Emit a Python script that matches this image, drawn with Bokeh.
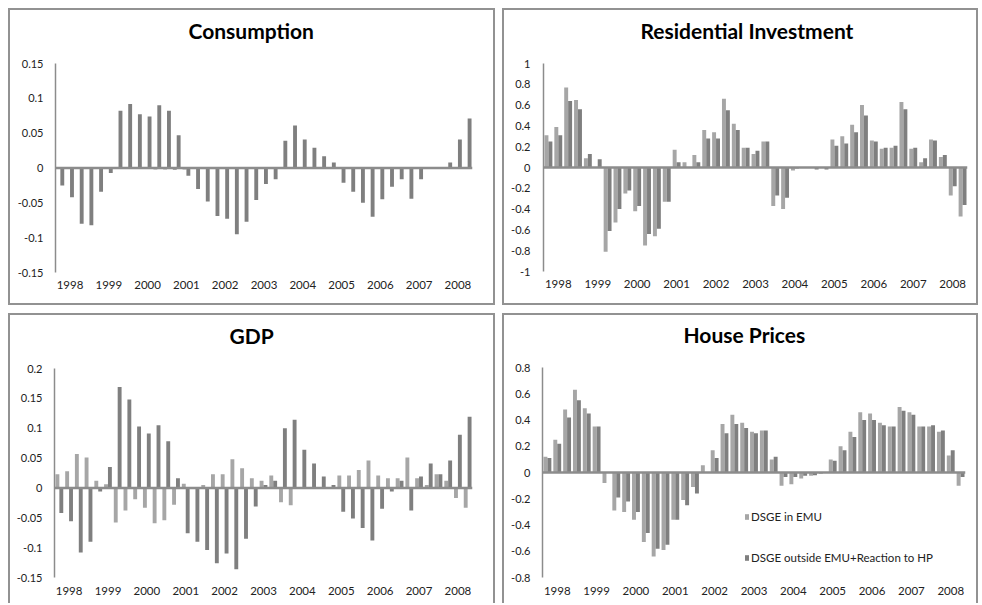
from bokeh.plotting import figure
from bokeh.models import (Range1d, Span, FixedTicker, PrintfTickFormatter, ColumnDataSource,
                          Title)
from bokeh.layouts import row, column
from bokeh.transform import dodge
from bokeh.embed import file_html
from bokeh.resources import INLINE

# ---------------- data ----------------
quarters = ["1997Q4"] + [f"{y}Q{q}" for y in range(1998, 2009) for q in range(1, 5)][:42]
quarter_time = [int(s[:4]) + (int(s[5]) - 1) / 4 for s in quarters]
years = [1998, 1999, 2000, 2001, 2002, 2003, 2004, 2005, 2006, 2007, 2008]

series_names = ["DSGE in EMU", "DSGE outside EMU+Reaction to HP"]

cons_emu = [0, 0, 0, 0, 0, 0, 0, 0, 0, 0, -0.002, -0.002, -0.003, -0.002, 0, 0, 0, 0, 0, 0,
            0, 0, 0, 0, 0, 0, 0, 0, 0, 0, 0, 0, 0, 0, 0, 0, 0, 0, 0, 0, 0, 0, 0]
cons_out = [-0.025, -0.042, -0.080, -0.082, -0.034, -0.007, 0.082, 0.092, 0.077, 0.074,
            0.090, 0.082, 0.047, -0.011, -0.030, -0.048, -0.069, -0.073, -0.095, -0.077,
            -0.046, -0.023, -0.016, 0.039, 0.061, 0.041, 0.029, 0.017, 0.008, -0.021,
            -0.034, -0.050, -0.070, -0.045, -0.027, -0.016, -0.044, -0.016, 0, 0,
            0.008, 0.041, 0.071]

res_emu = [0.31, 0.39, 0.77, 0.65, 0.09, 0.0, -0.81, -0.53, -0.25, -0.42, -0.75, -0.66, -0.33,
           0.17, 0.05, 0.12, 0.36, 0.34, 0.66, 0.42, 0.19, 0.13, 0.25, -0.37, -0.40, -0.03,
           0, 0, 0, 0.27, 0.30, 0.41, 0.60, 0.26, 0.18, 0.19, 0.63, 0.18, 0.05, 0.27, 0.10,
           -0.27, -0.47]
res_out = [0.25, 0.31, 0.64, 0.56, 0.13, 0.08, -0.61, -0.40, -0.22, -0.37, -0.64, -0.59, -0.33,
           0.05, 0.0, 0.05, 0.28, 0.28, 0.55, 0.36, 0.19, 0.16, 0.25, -0.27, -0.29, -0.01,
           0, -0.02, -0.02, 0.21, 0.23, 0.34, 0.50, 0.25, 0.19, 0.21, 0.56, 0.19, 0.09, 0.26,
           0.12, -0.18, -0.36]

gdp_emu = [0.023, 0.028, 0.057, 0.051, 0.012, 0.006, -0.058, -0.038, -0.019, -0.033, -0.059,
           -0.054, -0.028, 0.007, 0.0, 0.005, 0.023, 0.023, 0.048, 0.033, 0.016, 0.012, 0.021,
           -0.024, -0.029, 0, 0, 0, 0, 0.021, 0.021, 0.030, 0.046, 0.021, 0.016, 0.016, 0.051,
           0.016, 0.005, 0.023, 0.012, -0.017, -0.033]
gdp_out = [-0.042, -0.056, -0.108, -0.090, -0.006, 0.035, 0.169, 0.148, 0.103, 0.091, 0.105,
           0.078, 0.016, -0.076, -0.090, -0.104, -0.126, -0.110, -0.136, -0.085, -0.031, 0.005,
           0.012, 0.100, 0.114, 0.064, 0.041, 0.019, 0.005, -0.040, -0.051, -0.067, -0.088,
           -0.035, -0.006, 0.012, -0.038, 0.019, 0.041, 0.023, 0.046, 0.089, 0.119]

hp_emu = [0.12, 0.25, 0.48, 0.63, 0.49, 0.35, -0.08, -0.29, -0.30, -0.36, -0.53, -0.64, -0.59,
          -0.36, -0.21, -0.11, 0.055, 0.17, 0.37, 0.44, 0.38, 0.31, 0.32, 0.10, -0.10, -0.09,
          -0.045, -0.025, -0.01, 0.10, 0.20, 0.31, 0.46, 0.45, 0.38, 0.35, 0.50, 0.46, 0.35,
          0.35, 0.31, 0.13, -0.10]
hp_out = [0.11, 0.22, 0.42, 0.55, 0.45, 0.35, 0.0, -0.19, -0.22, -0.30, -0.46, -0.58, -0.55,
          -0.36, -0.25, -0.16, 0.0, 0.11, 0.30, 0.37, 0.34, 0.30, 0.32, 0.12, -0.035, -0.035,
          -0.025, -0.02, 0.0, 0.09, 0.17, 0.27, 0.40, 0.40, 0.36, 0.35, 0.47, 0.44, 0.35, 0.36,
          0.32, 0.17, -0.035]

cons_ticks = [-0.15, -0.1, -0.05, 0, 0.05, 0.1, 0.15]
res_ticks = [-1, -0.8, -0.6, -0.4, -0.2, 0, 0.2, 0.4, 0.6, 0.8, 1]
gdp_ticks = [-0.15, -0.1, -0.05, 0, 0.05, 0.1, 0.15, 0.2]
hp_ticks = [-0.8, -0.6, -0.4, -0.2, 0, 0.2, 0.4, 0.6, 0.8]

# ---------------- style ----------------
LIGHT = "#a6a6a6"
DARK = "#7f7f7f"
AXIS = "#8c8c8c"
BORDER = "#929292"
FONT = "Lato"
TXT = "#222222"
STEP = 0.25          # one quarter
BAR_W = STEP * 0.4
OFF = STEP * 0.2


def make_panel(title, emu, out, ticks, W, H, mb, title_offset, x_standoff, y_standoff,
               open_bottom=False, legend=None):
    src = ColumnDataSource(dict(t=quarter_time, q=quarters, emu=emu, out=out))
    fig_h = H - 2 if open_bottom else H - 4
    p = figure(x_range=Range1d(quarter_time[0] - STEP / 2, quarter_time[-1] + STEP / 2),
               y_range=Range1d(ticks[0], ticks[-1]),
               width=W - 4, height=fig_h, output_backend="svg", toolbar_location=None,
               min_border_left=mb[0], min_border_right=mb[1],
               min_border_top=mb[2], min_border_bottom=mb[3],
               background_fill_color="white", border_fill_color="white",
               title_location=None)
    kw_l = dict(legend_label=series_names[0]) if legend else {}
    kw_d = dict(legend_label=series_names[1]) if legend else {}
    p.vbar(x=dodge("t", -OFF), top="emu", width=BAR_W, source=src,
           fill_color=LIGHT, line_color=None, **kw_l)
    p.vbar(x=dodge("t", OFF), top="out", width=BAR_W, source=src,
           fill_color=DARK, line_color=None, **kw_d)
    p.add_layout(Span(location=0, dimension="width", line_color=AXIS, line_width=2.5))

    p.xgrid.visible = False
    p.ygrid.visible = False
    p.outline_line_color = None

    # spacer between frame and title, then the title itself
    p.add_layout(Title(text=" ", text_font=FONT, text_font_size="12px", standoff=4), "above")
    p.add_layout(Title(text=title, align="left", offset=title_offset, standoff=0,
                       text_font=FONT, text_font_style="bold", text_font_size="21px",
                       text_color="black"), "above")

    ya = p.yaxis[0]
    ya.ticker = FixedTicker(ticks=ticks)
    ya.formatter = PrintfTickFormatter(format="%g")
    ya.major_tick_line_color = None
    ya.minor_tick_line_color = None
    ya.major_tick_out = 0
    ya.major_tick_in = 0
    ya.axis_line_color = AXIS
    ya.axis_line_width = 1.5
    ya.major_label_standoff = y_standoff
    ya.major_label_text_font = FONT
    ya.major_label_text_font_size = "11px"
    ya.major_label_text_color = TXT

    xa = p.xaxis[0]
    xa.ticker = FixedTicker(ticks=years)
    xa.formatter = PrintfTickFormatter(format="%d")
    xa.axis_line_color = None
    xa.major_tick_line_color = None
    xa.minor_tick_line_color = None
    xa.major_tick_out = 0
    xa.major_tick_in = 0
    xa.major_label_standoff = x_standoff
    xa.major_label_text_font = FONT
    xa.major_label_text_font_size = "11.5px"
    xa.major_label_text_color = TXT

    if legend:
        lg = p.legend[0]
        lg.location = legend
        lg.padding = 0
        lg.margin = 0
        lg.border_line_color = None
        lg.background_fill_alpha = 0
        lg.glyph_width = 5
        lg.glyph_height = 7
        lg.label_height = 12
        lg.label_standoff = 2
        lg.spacing = 28
        lg.label_text_font = FONT
        lg.label_text_font_size = "11.5px"
        lg.label_text_color = TXT

    b = f"2px solid {BORDER}"
    st = {"border-top": b, "border-left": b, "border-right": b}
    if not open_bottom:
        st["border-bottom"] = b
    return column(p, styles=st)


c1 = make_panel("Consumption", cons_emu, cons_out, cons_ticks, 487, 297,
                (45, 21, 53, 31), 133, 8, 12)
c2 = make_panel("Residential Investment", res_emu, res_out, res_ticks, 476, 297,
                (39, 9, 53, 32), 97, 8, 13)
c3 = make_panel("GDP", gdp_emu, gdp_out, gdp_ticks, 487, 290,
                (44, 21, 53, 26), 175, 9, 12, open_bottom=True)
c4 = make_panel("House Prices", hp_emu, hp_out, hp_ticks, 476, 290,
                (38, 11, 52, 26), 141, 9, 12, open_bottom=True, legend=(202, 13))

layout = column(row(c1, c2, spacing=7), row(c3, c4, spacing=7), spacing=8,
                margin=(8, 0, 0, 8))

open("out.html", "w").write(file_html(layout, INLINE))
